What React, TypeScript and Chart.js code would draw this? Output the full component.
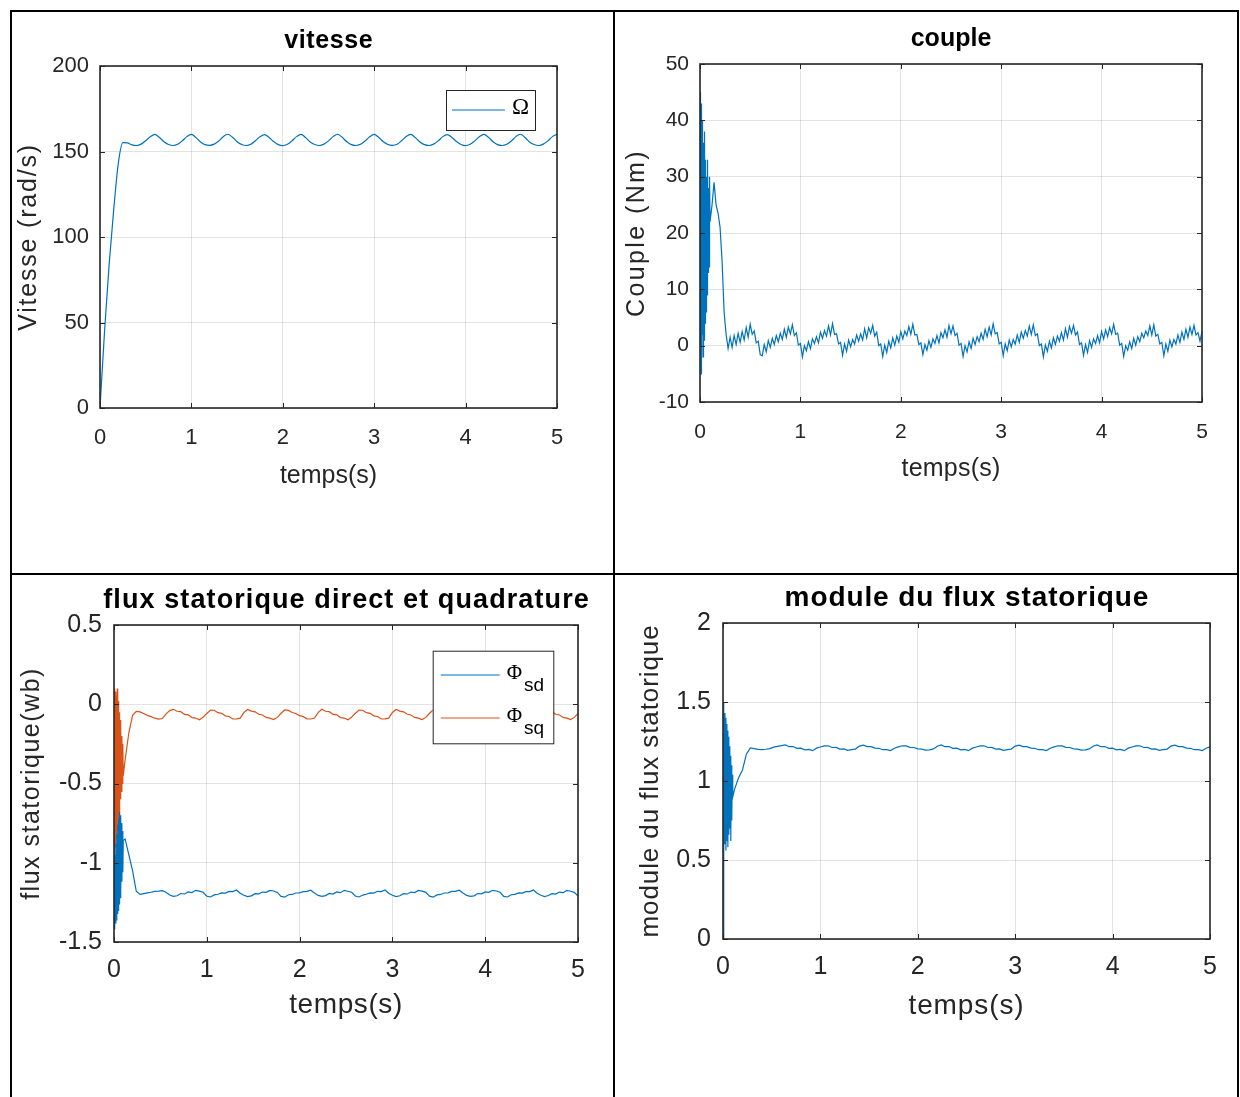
import React, { useEffect, useRef } from "react";
import { Chart, registerables } from "chart.js";

Chart.register(...registerables);

const SANS = "'Liberation Sans', Arial, Helvetica, sans-serif";
const SERIF = "'Liberation Serif', 'Times New Roman', serif";
const BLUE = "#0072BD";
const ORANGE = "#D95319";
const AXIS = "#262626";
const GRID = "rgba(38,38,38,0.13)";

// ---------------- data ----------------
const timeTicks = [0, 1, 2, 3, 4, 5];
const speedYTicks = [0, 50, 100, 150, 200];
const coupleYTicks = [-10, 0, 10, 20, 30, 40, 50];
const fluxYTicks = [-1.5, -1, -0.5, 0, 0.5];
const moduleYTicks = [0, 0.5, 1, 1.5, 2];

// vitesse (rad/s), t = 0 .. 5 s, step 0.05 s
const speedStart = 0;
const speedStep = 0.05;
const speedValues = [
  0, 45, 84, 116, 143, 155.2, 155.0, 153.9, 153.5, 154.3, 156.3, 158.6, 160.0,
  158.2, 155.7, 154.1, 153.5, 154.2, 156.2, 158.7, 160.0,
  158.1, 155.6, 154.0, 153.6, 154.3, 156.1, 158.8, 160.1,
  158.3, 155.7, 154.1, 153.5, 154.2, 156.3, 158.6, 159.9,
  158.2, 155.8, 154.0, 153.4, 154.2, 156.2, 158.7, 160.0,
  158.1, 155.6, 154.1, 153.5, 154.3, 156.2, 158.7, 160.1,
  158.3, 155.7, 154.0, 153.5, 154.2, 156.1, 158.6, 160.0,
  158.2, 155.7, 154.1, 153.6, 154.2, 156.3, 158.8, 160.0,
  158.1, 155.6, 154.0, 153.5, 154.3, 156.2, 158.7, 159.9,
  158.2, 155.8, 154.1, 153.4, 154.2, 156.2, 158.6, 160.0,
  158.3, 155.7, 154.0, 153.5, 154.2, 156.1, 158.7, 160.1,
  158.2, 155.6, 154.1, 153.5, 154.3, 156.2, 158.7, 160.0,
];

// couple (Nm): start-up transient 0..0.1 s (step 0.005 s), then 0.12..5 s (step 0.02 s)
const coupleTransient = [0, 45, -5, 43, 2, 40, -2, 36, 1, 38, 4, 33, 6, 30, 9, 33, 13, 28, 14, 30, 22];
const coupleMain = [
  25, 29, 25, 23.5, 21, 15, 6, 2, -0.5,
  1.5, -0.3, 1.8, 0.2, 2.2, 0.6, 2.5, 1.0, 3.2, 1.5, 3.8, 2.0, 2.6, 0.5, 0.8, -1.6,
  -1.8, 0.2, -1.1, 0.9, -0.3, 1.3, 0.2, 1.8, 0.7, 2.2, 1.1, 2.9, 1.5, 3.3, 2.1, 3.7, 1.8, 2.3, 0.1, 0.4,
  -2.0, 0.0, -0.9, 0.7, -0.5, 1.2, 0.4, 1.6, 0.5, 2.4, 1.3, 2.7, 1.7, 3.5, 1.9, 3.9, 2.0, 2.1, 0.3, 0.6,
  -1.7, 0.3, -1.0, 1.0, -0.2, 1.1, 0.3, 1.9, 0.8, 2.1, 1.0, 3.0, 1.4, 3.2, 2.2, 3.6, 1.7, 2.4, 0.0, 0.3,
  -1.9, 0.1, -1.2, 0.8, -0.4, 1.4, 0.1, 1.7, 0.6, 2.5, 1.2, 2.6, 1.8, 3.4, 2.0, 3.8, 1.9, 2.0, 0.2, 0.5,
  -1.6, 0.2, -0.8, 0.9, -0.3, 1.2, 0.4, 1.8, 0.5, 2.3, 1.4, 2.8, 1.5, 3.6, 2.1, 3.5, 1.8, 2.2, 0.1, 0.4,
  -1.9, 0.0, -1.1, 0.7, -0.5, 1.3, 0.2, 1.6, 0.7, 2.2, 1.1, 2.9, 1.6, 3.3, 1.9, 3.9, 2.1, 2.3, 0.3, 0.6,
  -1.8, 0.3, -0.9, 1.0, -0.2, 1.1, 0.3, 1.9, 0.6, 2.4, 1.3, 2.7, 1.7, 3.5, 2.0, 3.7, 1.8, 2.1, 0.0, 0.3,
  -2.0, 0.1, -1.0, 0.8, -0.4, 1.4, 0.2, 1.7, 0.8, 2.3, 1.0, 3.0, 1.5, 3.4, 2.2, 3.6, 1.9, 2.4, 0.2, 0.5,
  -1.7, 0.2, -1.2, 0.9, -0.3, 1.2, 0.4, 1.8, 0.5, 2.5, 1.2, 2.8, 1.6, 3.2, 2.1, 3.8, 2.0, 2.2, 0.1, 0.4,
  -1.9, 0.0, -0.8, 0.7, -0.5, 1.3, 0.1, 1.6, 0.7, 2.2, 1.4, 2.6, 1.8, 3.5, 1.9, 3.7, 1.7, 2.0, 0.3, 0.6,
  -1.8, 0.3, -1.0, 1.0, -0.2, 1.1, 0.3, 1.9, 0.6, 2.4, 1.1, 2.9, 1.5, 3.3, 2.0, 3.6, 1.9, 2.3, 0.8, 2.5,
];

// flux (Wb): transient 0..0.1 s (step 0.005 s), then 0.12..5 s (step 0.04 s)
const fluxSdTransient = [-1.0, -1.42, -0.95, -1.38, -0.88, -1.36, -0.82, -1.32, -0.76, -1.3, -0.72, -1.26, -0.68, -1.22, -0.7, -1.18, -0.75, -1.12, -0.8, -1.06, -0.86];
const fluxSdMain = [
  -0.85, -0.95, -1.05, -1.18, -1.2, -1.195, -1.19, -1.186, -1.181, -1.179, -1.176, -1.186, -1.204,
  -1.212, -1.208, -1.194, -1.197, -1.184, -1.188, -1.174, -1.179, -1.186, -1.211,
  -1.216, -1.203, -1.199, -1.19, -1.191, -1.181, -1.182, -1.172, -1.192, -1.205,
  -1.213, -1.209, -1.195, -1.196, -1.185, -1.187, -1.175, -1.178, -1.187, -1.212,
  -1.217, -1.202, -1.2, -1.191, -1.19, -1.182, -1.181, -1.173, -1.191, -1.206,
  -1.212, -1.207, -1.194, -1.198, -1.184, -1.189, -1.174, -1.18, -1.186, -1.21,
  -1.216, -1.204, -1.199, -1.19, -1.191, -1.18, -1.182, -1.172, -1.192, -1.205,
  -1.213, -1.208, -1.195, -1.197, -1.185, -1.188, -1.175, -1.179, -1.187, -1.211,
  -1.217, -1.203, -1.2, -1.191, -1.19, -1.181, -1.181, -1.173, -1.191, -1.206,
  -1.212, -1.209, -1.194, -1.196, -1.184, -1.187, -1.174, -1.178, -1.186, -1.212,
  -1.216, -1.202, -1.199, -1.19, -1.191, -1.182, -1.182, -1.172, -1.192, -1.205,
  -1.213, -1.207, -1.195, -1.198, -1.185, -1.189, -1.175, -1.18, -1.187, -1.21,
];
const fluxSqTransient = [-0.5, 0.1, -0.95, 0.08, -0.9, 0.05, -0.85, 0.1, -0.8, 0.02, -0.75, -0.05, -0.7, -0.1, -0.6, -0.15, -0.55, -0.2, -0.5, -0.25, -0.45];
const fluxSqMain = [
  -0.35, -0.18, -0.07, -0.045, -0.048, -0.058, -0.07, -0.078, -0.088, -0.094, -0.09, -0.062, -0.04,
  -0.032, -0.044, -0.047, -0.064, -0.067, -0.084, -0.087, -0.098, -0.082, -0.058,
  -0.037, -0.038, -0.053, -0.057, -0.073, -0.077, -0.093, -0.092, -0.088, -0.052,
  -0.033, -0.043, -0.048, -0.063, -0.068, -0.083, -0.088, -0.097, -0.083, -0.057,
  -0.036, -0.039, -0.052, -0.058, -0.072, -0.078, -0.092, -0.093, -0.087, -0.053,
  -0.032, -0.044, -0.047, -0.064, -0.067, -0.084, -0.087, -0.098, -0.082, -0.058,
  -0.037, -0.038, -0.053, -0.057, -0.073, -0.077, -0.093, -0.092, -0.088, -0.052,
  -0.033, -0.043, -0.048, -0.063, -0.068, -0.083, -0.088, -0.097, -0.083, -0.057,
  -0.036, -0.039, -0.052, -0.058, -0.072, -0.078, -0.092, -0.093, -0.087, -0.053,
  -0.032, -0.044, -0.047, -0.064, -0.067, -0.084, -0.087, -0.098, -0.082, -0.058,
  -0.037, -0.038, -0.053, -0.057, -0.073, -0.077, -0.093, -0.092, -0.088, -0.052,
  -0.033, -0.043, -0.048, -0.063, -0.068, -0.083, -0.088, -0.097, -0.083, -0.057,
];
const moduleTransient = [0, 1.5, 0.55, 1.43, 0.6, 1.4, 0.56, 1.36, 0.62, 1.32, 0.58, 1.28, 0.66, 1.22, 0.7, 1.16, 0.62, 1.1, 0.75, 1.04, 0.9];
const moduleMain = [
  0.95, 1.02, 1.07, 1.17, 1.21, 1.205, 1.2, 1.198, 1.201, 1.205, 1.214, 1.219, 1.224,
  1.228, 1.217, 1.218, 1.207, 1.208, 1.197, 1.2, 1.192, 1.208, 1.215,
  1.222, 1.223, 1.212, 1.213, 1.202, 1.203, 1.194, 1.198, 1.202, 1.221,
  1.227, 1.218, 1.217, 1.208, 1.207, 1.198, 1.199, 1.193, 1.207, 1.216,
  1.223, 1.222, 1.213, 1.212, 1.203, 1.202, 1.195, 1.197, 1.203, 1.22,
  1.228, 1.217, 1.218, 1.207, 1.208, 1.197, 1.2, 1.192, 1.208, 1.215,
  1.222, 1.223, 1.212, 1.213, 1.202, 1.203, 1.194, 1.198, 1.202, 1.221,
  1.227, 1.218, 1.217, 1.208, 1.207, 1.198, 1.199, 1.193, 1.207, 1.216,
  1.223, 1.222, 1.213, 1.212, 1.203, 1.202, 1.195, 1.197, 1.203, 1.22,
  1.228, 1.217, 1.218, 1.207, 1.208, 1.197, 1.2, 1.192, 1.208, 1.215,
  1.222, 1.223, 1.212, 1.213, 1.202, 1.203, 1.194, 1.198, 1.202, 1.221,
  1.227, 1.218, 1.217, 1.208, 1.207, 1.198, 1.199, 1.193, 1.207, 1.216,
];

const transientStep = 0.005;
const mainStart = 0.12;
const coupleStep = 0.02;
const fluxStep = 0.04;

function toXY(values: number[], t0: number, dt: number) {
  return values.map((v, i) => ({ x: Math.round((t0 + i * dt) * 10000) / 10000, y: v }));
}

// ---------------- panel definitions ----------------
type LegendItem = { color: string; main: string; sub: string; y: number };
type Legend = { right: number; top: number; w: number; h: number; lineX0: number; lineX1: number; textX: number; mainFont: string; subFont: string; items: LegendItem[] };
type Ds = { label: string; color: string; data: { x: number; y: number }[]; smooth?: boolean };
type PanelCfg = {
  id: string;
  canvas: { x: number; y: number; w: number; h: number };
  area: { L: number; T: number; R: number; B: number };
  title: string; titleSize: number; titleSpacing: number; titleCY: number;
  yLabel: string; yLabelSize: number; yLabelSpacing: number; yLabelCX: number;
  xLabel: string; xLabelSize: number; xLabelSpacing: number; xLabelCY: number;
  tickSize: number; yTickGap: number; xTickCY: number;
  yTicks: number[];
  datasets: Ds[];
  legend?: Legend;
};

const panels: PanelCfg[] = [
  {
    id: "vitesse",
    canvas: { x: 12, y: 12, w: 600, h: 560 },
    area: { L: 100, T: 66, R: 557, B: 408 },
    title: "vitesse", titleSize: 25, titleSpacing: 0.6, titleCY: 41,
    yLabel: "Vitesse (rad/s)", yLabelSize: 25, yLabelSpacing: 1.8, yLabelCX: 29,
    xLabel: "temps(s)", xLabelSize: 25, xLabelSpacing: 0, xLabelCY: 476,
    tickSize: 22, yTickGap: 11, xTickCY: 438,
    yTicks: speedYTicks,
    datasets: [{ label: "Ω", color: BLUE, data: toXY(speedValues, speedStart, speedStep), smooth: true }],
    legend: {
      right: 22, top: 24, w: 89, h: 40, lineX0: 6, lineX1: 59, textX: 66,
      mainFont: `23px ${SERIF}`, subFont: `19px ${SANS}`,
      items: [{ color: BLUE, main: "Ω", sub: "", y: 20 }],
    },
  },
  {
    id: "couple",
    canvas: { x: 616, y: 12, w: 620, h: 560 },
    area: { L: 700, T: 64, R: 1202, B: 402 },
    title: "couple", titleSize: 25, titleSpacing: 0, titleCY: 39,
    yLabel: "Couple (Nm)", yLabelSize: 25, yLabelSpacing: 2.4, yLabelCX: 637,
    xLabel: "temps(s)", xLabelSize: 25, xLabelSpacing: 0.2, xLabelCY: 469,
    tickSize: 21, yTickGap: 11, xTickCY: 432,
    yTicks: coupleYTicks,
    datasets: [{ label: "Ce", color: BLUE, data: [...toXY(coupleTransient, 0, transientStep), ...toXY(coupleMain, mainStart, coupleStep)] }],
  },
  {
    id: "flux",
    canvas: { x: 12, y: 576, w: 600, h: 520 },
    area: { L: 114, T: 625, R: 578, B: 942 },
    title: "flux statorique direct et quadrature", titleSize: 27, titleSpacing: 1.1, titleCY: 601,
    yLabel: "flux statorique(wb)", yLabelSize: 25, yLabelSpacing: 1.5, yLabelCX: 32,
    xLabel: "temps(s)", xLabelSize: 28, xLabelSpacing: 0.6, xLabelCY: 1005,
    tickSize: 25, yTickGap: 12, xTickCY: 970,
    yTicks: fluxYTicks,
    datasets: [
      { label: "Φsd", color: BLUE, data: [...toXY(fluxSdTransient, 0, transientStep), ...toXY(fluxSdMain, mainStart, fluxStep)] },
      { label: "Φsq", color: ORANGE, data: [...toXY(fluxSqTransient, 0, transientStep), ...toXY(fluxSqMain, mainStart, fluxStep)] },
    ],
    legend: {
      right: 24.7, top: 25.7, w: 120.6, h: 92.6, lineX0: 8, lineX1: 67, textX: 74,
      mainFont: `21px ${SERIF}`, subFont: `19px ${SANS}`,
      items: [
        { color: BLUE, main: "Φ", sub: "sd", y: 24.3 },
        { color: ORANGE, main: "Φ", sub: "sq", y: 67.3 },
      ],
    },
  },
  {
    id: "module",
    canvas: { x: 616, y: 576, w: 620, h: 520 },
    area: { L: 723, T: 623, R: 1210, B: 939 },
    title: "module du flux statorique", titleSize: 28, titleSpacing: 0.9, titleCY: 598,
    yLabel: "module du flux statorique", yLabelSize: 26, yLabelSpacing: 0.9, yLabelCX: 651,
    xLabel: "temps(s)", xLabelSize: 28, xLabelSpacing: 0.9, xLabelCY: 1006,
    tickSize: 25, yTickGap: 12, xTickCY: 967,
    yTicks: moduleYTicks,
    datasets: [{ label: "|Φs|", color: BLUE, data: [...toXY(moduleTransient, 0, transientStep), ...toXY(moduleMain, mainStart, fluxStep)] }],
  },
];

// ---------------- helpers ----------------
function wrapTitle(scale: any, spacing: number) {
  if (!scale || scale.__wrapped) return;
  const orig = scale.drawTitle;
  scale.drawTitle = function (...args: any[]) {
    const c = this.ctx;
    c.save();
    c.letterSpacing = spacing + "px";
    orig.apply(this, args);
    c.restore();
  };
  scale.__wrapped = true;
}

function makeDecor(p: PanelCfg) {
  return {
    id: "decor_" + p.id,
    beforeDraw(chart: any) {
      wrapTitle(chart.scales.x, p.xLabelSpacing);
      wrapTitle(chart.scales.y, p.yLabelSpacing);
    },
    afterDatasetsDraw(chart: any) {
      const { ctx, chartArea: a } = chart;
      const xs = chart.scales.x;
      const ys = chart.scales.y;
      ctx.save();
      ctx.strokeStyle = AXIS;
      ctx.lineWidth = 1;
      ctx.beginPath();
      const tl = 5;
      for (const t of xs.ticks) {
        const px = Math.round(xs.getPixelForValue(t.value)) + 0.5;
        ctx.moveTo(px, a.bottom); ctx.lineTo(px, a.bottom - tl);
        ctx.moveTo(px, a.top); ctx.lineTo(px, a.top + tl);
      }
      for (const t of ys.ticks) {
        const py = Math.round(ys.getPixelForValue(t.value)) + 0.5;
        ctx.moveTo(a.left, py); ctx.lineTo(a.left + tl, py);
        ctx.moveTo(a.right, py); ctx.lineTo(a.right - tl, py);
      }
      ctx.stroke();
      ctx.lineWidth = 1.6;
      ctx.strokeRect(a.left, a.top, a.right - a.left, a.bottom - a.top);

      const lg = p.legend;
      if (lg) {
        const bx = a.right - lg.right - lg.w;
        const by = a.top + lg.top;
        ctx.fillStyle = "#ffffff";
        ctx.fillRect(bx, by, lg.w, lg.h);
        ctx.lineWidth = 1;
        ctx.strokeStyle = AXIS;
        ctx.strokeRect(bx + 0.5, by + 0.5, lg.w, lg.h);
        for (const it of lg.items) {
          ctx.strokeStyle = it.color;
          ctx.lineWidth = 1.2;
          ctx.beginPath();
          ctx.moveTo(bx + lg.lineX0, by + it.y);
          ctx.lineTo(bx + lg.lineX1, by + it.y);
          ctx.stroke();
          ctx.fillStyle = "#000000";
          ctx.textAlign = "left";
          ctx.textBaseline = "middle";
          ctx.font = lg.mainFont;
          ctx.fillText(it.main, bx + lg.textX, by + it.y - 2);
          if (it.sub) {
            const w = ctx.measureText(it.main).width;
            ctx.font = lg.subFont;
            ctx.fillText(it.sub, bx + lg.textX + w + 2, by + it.y + 11);
          }
        }
      }
      ctx.restore();
    },
    afterDraw(chart: any) {
      const { ctx, chartArea: a } = chart;
      ctx.save();
      ctx.letterSpacing = p.titleSpacing + "px";
      ctx.font = `bold ${p.titleSize}px ${SANS}`;
      ctx.fillStyle = "#000000";
      ctx.textAlign = "center";
      ctx.textBaseline = "middle";
      ctx.fillText(p.title, (a.left + a.right) / 2 + p.titleSpacing / 2, p.titleCY - p.canvas.y);
      ctx.restore();
    },
  };
}

const plainNumber = (v: number | string) => String(Math.round(Number(v) * 1000) / 1000);

function buildConfig(p: PanelCfg): any {
  const { x, y, w, h } = p.canvas;
  const l = p.area.L - x;
  const t = p.area.T - y;
  const r = p.area.R - x;
  const b = p.area.B - y;
  const yW = l;
  const xH = h - b;
  const yTitlePadTop = p.yLabelCX - x - (p.yLabelSize * 1.2) / 2;
  const xTitlePadBottom = h - (p.xLabelCY - y) - (p.xLabelSize * 1.2) / 2;
  const xTickPad = p.xTickCY - y - b - (p.tickSize * 1.2) / 2;
  const yMin = p.yTicks[0];
  const yMax = p.yTicks[p.yTicks.length - 1];
  return {
    type: "line",
    data: {
      datasets: p.datasets.map((d) => ({
        label: d.label,
        data: d.data,
        borderColor: d.color,
        backgroundColor: d.color,
        borderWidth: 1.2,
        pointRadius: 0,
        fill: false,
        tension: d.smooth ? 0.3 : 0,
        cubicInterpolationMode: d.smooth ? "monotone" : "default",
      })),
    },
    options: {
      responsive: false,
      animation: false,
      events: [],
      layout: { padding: { left: 0, top: t, right: w - r, bottom: 0 } },
      plugins: { legend: { display: false }, tooltip: { enabled: false }, title: { display: false } },
      scales: {
        x: {
          type: "linear",
          min: timeTicks[0],
          max: timeTicks[timeTicks.length - 1],
          afterBuildTicks: (s: any) => { s.ticks = timeTicks.map((v) => ({ value: v })); },
          afterFit: (s: any) => { s.height = xH; },
          grid: { color: GRID, drawTicks: false, lineWidth: 1 },
          border: { display: false },
          ticks: { padding: xTickPad, color: AXIS, maxRotation: 0, autoSkip: false, callback: plainNumber, font: { family: SANS, size: p.tickSize, lineHeight: 1.2 } },
          title: { display: true, text: p.xLabel, color: AXIS, font: { family: SANS, size: p.xLabelSize, lineHeight: 1.2 }, padding: { top: 0, bottom: xTitlePadBottom } },
        },
        y: {
          type: "linear",
          min: yMin,
          max: yMax,
          afterBuildTicks: (s: any) => { s.ticks = p.yTicks.map((v) => ({ value: v })); },
          afterFit: (s: any) => { s.width = yW; },
          grid: { color: GRID, drawTicks: false, lineWidth: 1 },
          border: { display: false },
          ticks: { padding: p.yTickGap, color: AXIS, autoSkip: false, callback: plainNumber, font: { family: SANS, size: p.tickSize, lineHeight: 1.2 } },
          title: { display: true, text: p.yLabel, color: AXIS, font: { family: SANS, size: p.yLabelSize, lineHeight: 1.2 }, padding: { top: yTitlePadTop, bottom: 0 } },
        },
      },
    },
    plugins: [makeDecor(p)],
  };
}

function Panel({ cfg }: { cfg: PanelCfg }) {
  const ref = useRef<HTMLCanvasElement>(null);
  useEffect(() => {
    const chart = new Chart(ref.current as HTMLCanvasElement, buildConfig(cfg));
    return () => chart.destroy();
  }, [cfg]);
  const { x, y, w, h } = cfg.canvas;
  return (
    <canvas
      ref={ref}
      width={w}
      height={h}
      style={{ position: "absolute", left: x, top: y, width: w, height: h }}
    />
  );
}

const lineStyle = (left: number, top: number, width: number, height: number): React.CSSProperties => ({
  position: "absolute", left, top, width, height, background: "#000",
});

export default function App() {
  return (
    <div style={{ position: "absolute", left: 0, top: 0, width: 1240, height: 1097, background: "#fff", overflow: "hidden" }}>
      <div style={lineStyle(10, 10, 1229, 2)} />
      <div style={lineStyle(10, 573, 1229, 2)} />
      <div style={lineStyle(10, 10, 2, 1087)} />
      <div style={lineStyle(613, 10, 2, 1087)} />
      <div style={lineStyle(1237, 10, 2, 1087)} />
      {panels.map((p) => (
        <Panel key={p.id} cfg={p} />
      ))}
    </div>
  );
}
